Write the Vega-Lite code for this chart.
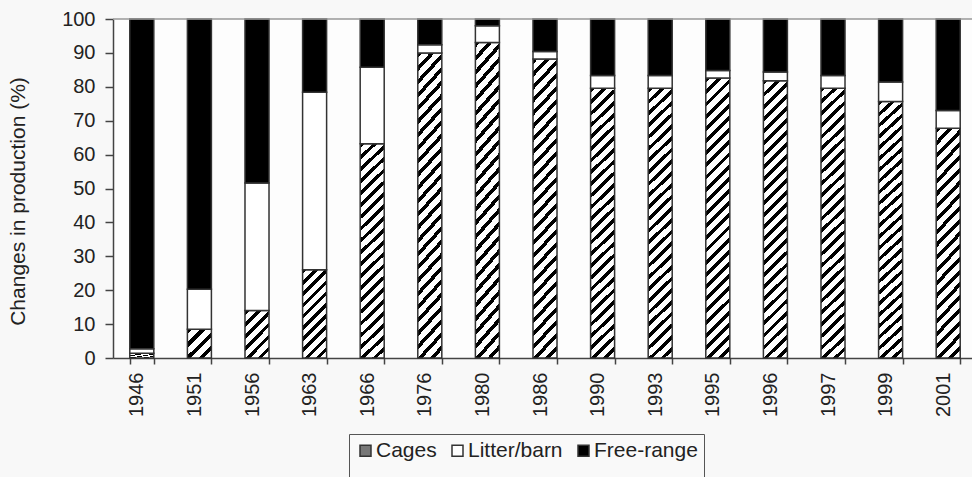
{
  "$schema": "https://vega.github.io/schema/vega-lite/v6.json",
  "autosize": "none",
  "width": 859,
  "height": 339,
  "padding": {"left": 113, "top": 19, "right": 0, "bottom": 119},
  "background": "#f8f8f8",
  "config": {
    "font": "Liberation Sans",
    "view": {"stroke": null, "fill": "#fdfdfd"},
    "axisY": {"labelOverlap": false}
  },
  "data": {"values": [
    {"year": "1946", "cat": "Cages", "start": 0, "end": 1.4},
    {"year": "1946", "cat": "Litter/barn", "start": 1.4, "end": 2.7},
    {"year": "1946", "cat": "Free-range", "start": 2.7, "end": 100},
    {"year": "1951", "cat": "Cages", "start": 0, "end": 8.5},
    {"year": "1951", "cat": "Litter/barn", "start": 8.5, "end": 20.3},
    {"year": "1951", "cat": "Free-range", "start": 20.3, "end": 100},
    {"year": "1956", "cat": "Cages", "start": 0, "end": 14.0},
    {"year": "1956", "cat": "Litter/barn", "start": 14.0, "end": 51.6},
    {"year": "1956", "cat": "Free-range", "start": 51.6, "end": 100},
    {"year": "1963", "cat": "Cages", "start": 0, "end": 26.0},
    {"year": "1963", "cat": "Litter/barn", "start": 26.0, "end": 78.4},
    {"year": "1963", "cat": "Free-range", "start": 78.4, "end": 100},
    {"year": "1966", "cat": "Cages", "start": 0, "end": 63.2},
    {"year": "1966", "cat": "Litter/barn", "start": 63.2, "end": 85.8},
    {"year": "1966", "cat": "Free-range", "start": 85.8, "end": 100},
    {"year": "1976", "cat": "Cages", "start": 0, "end": 90.0},
    {"year": "1976", "cat": "Litter/barn", "start": 90.0, "end": 92.4},
    {"year": "1976", "cat": "Free-range", "start": 92.4, "end": 100},
    {"year": "1980", "cat": "Cages", "start": 0, "end": 93.1},
    {"year": "1980", "cat": "Litter/barn", "start": 93.1, "end": 98.0},
    {"year": "1980", "cat": "Free-range", "start": 98.0, "end": 100},
    {"year": "1986", "cat": "Cages", "start": 0, "end": 88.2},
    {"year": "1986", "cat": "Litter/barn", "start": 88.2, "end": 90.4},
    {"year": "1986", "cat": "Free-range", "start": 90.4, "end": 100},
    {"year": "1990", "cat": "Cages", "start": 0, "end": 79.6},
    {"year": "1990", "cat": "Litter/barn", "start": 79.6, "end": 83.3},
    {"year": "1990", "cat": "Free-range", "start": 83.3, "end": 100},
    {"year": "1993", "cat": "Cages", "start": 0, "end": 79.6},
    {"year": "1993", "cat": "Litter/barn", "start": 79.6, "end": 83.3},
    {"year": "1993", "cat": "Free-range", "start": 83.3, "end": 100},
    {"year": "1995", "cat": "Cages", "start": 0, "end": 82.6},
    {"year": "1995", "cat": "Litter/barn", "start": 82.6, "end": 84.8},
    {"year": "1995", "cat": "Free-range", "start": 84.8, "end": 100},
    {"year": "1996", "cat": "Cages", "start": 0, "end": 81.8},
    {"year": "1996", "cat": "Litter/barn", "start": 81.8, "end": 84.4},
    {"year": "1996", "cat": "Free-range", "start": 84.4, "end": 100},
    {"year": "1997", "cat": "Cages", "start": 0, "end": 79.6},
    {"year": "1997", "cat": "Litter/barn", "start": 79.6, "end": 83.3},
    {"year": "1997", "cat": "Free-range", "start": 83.3, "end": 100},
    {"year": "1999", "cat": "Cages", "start": 0, "end": 75.7},
    {"year": "1999", "cat": "Litter/barn", "start": 75.7, "end": 81.4},
    {"year": "1999", "cat": "Free-range", "start": 81.4, "end": 100},
    {"year": "2001", "cat": "Cages", "start": 0, "end": 67.8},
    {"year": "2001", "cat": "Litter/barn", "start": 67.8, "end": 73.0},
    {"year": "2001", "cat": "Free-range", "start": 73.0, "end": 100}
  ]},
  "layer": [
    {
      "mark": {"type": "bar", "stroke": "#333", "strokeWidth": 1.5},
      "encoding": {
        "x": {
          "field": "year", "type": "ordinal", "sort": null,
          "scale": {"range": [0, 864], "paddingInner": 0.583, "paddingOuter": 0.2915},
          "axis": {"title": null, "labelAngle": -90, "labelFontSize": 20, "labelPadding": 8, "labelOffset": -5, "tickSize": 6, "tickBand": "extent", "domainColor": "#444", "tickColor": "#444", "domainWidth": 1.5, "tickWidth": 1.5, "labelColor": "#222"}
        },
        "y": {
          "field": "end", "type": "quantitative",
          "scale": {"domain": [0, 100], "nice": false},
          "axis": {"title": "Changes in production (%)", "values": [0, 10, 20, 30, 40, 50, 60, 70, 80, 90, 100], "labelOverlap": false, "grid": false, "tickSize": 8, "labelPadding": 10, "labelFontSize": 20, "labelColor": "#222", "titleFontSize": 21, "titleFontWeight": "normal", "titleColor": "#222", "titleX": -95, "titleY": 182, "titleBaseline": "middle", "domainColor": "#444", "tickColor": "#444", "domainWidth": 1.5, "tickWidth": 1.5}
        },
        "y2": {"field": "start"},
        "fill": {
          "field": "cat", "type": "nominal",
          "scale": {"domain": ["Cages", "Litter/barn", "Free-range"], "range": ["#777777", "#ffffff", "#000000"]},
          "legend": {
            "orient": "none", "legendX": 236, "legendY": 415, "direction": "horizontal",
            "title": " ", "titleOrient": "bottom", "titleFontSize": 20, "titlePadding": 5,
            "padding": 6, "strokeColor": "#555", "fillColor": "#f9f9f9",
            "symbolType": "square", "symbolSize": 121,
            "labelFontSize": 21, "labelColor": "#222", "labelOffset": 0, "columnPadding": 10,
            "encode": {"symbols": {
              "fillOpacity": {"value": 1},
              "stroke": {"value": "#000"},
              "strokeWidth": {"value": 1.2}
            }}
          },
          "condition": [
            {"test": "datum.cat === 'Cages' && indexof(['1976','1980','1986','1990','1993','1995','1996','1997','1999'], datum.year) >= 0",
             "value": {"gradient": "linear", "x1": 0, "y1": 0, "x2": 0.0924, "y2": 1.0778, "stops": [
              {"offset":0,"color":"#000"},{"offset":0.016,"color":"#000"},{"offset":0.016,"color":"#fff"},{"offset":0.04,"color":"#fff"},
              {"offset":0.04,"color":"#000"},{"offset":0.056,"color":"#000"},{"offset":0.056,"color":"#fff"},{"offset":0.08,"color":"#fff"},
              {"offset":0.08,"color":"#000"},{"offset":0.096,"color":"#000"},{"offset":0.096,"color":"#fff"},{"offset":0.12,"color":"#fff"},
              {"offset":0.12,"color":"#000"},{"offset":0.136,"color":"#000"},{"offset":0.136,"color":"#fff"},{"offset":0.16,"color":"#fff"},
              {"offset":0.16,"color":"#000"},{"offset":0.176,"color":"#000"},{"offset":0.176,"color":"#fff"},{"offset":0.2,"color":"#fff"},
              {"offset":0.2,"color":"#000"},{"offset":0.216,"color":"#000"},{"offset":0.216,"color":"#fff"},{"offset":0.24,"color":"#fff"},
              {"offset":0.24,"color":"#000"},{"offset":0.256,"color":"#000"},{"offset":0.256,"color":"#fff"},{"offset":0.28,"color":"#fff"},
              {"offset":0.28,"color":"#000"},{"offset":0.296,"color":"#000"},{"offset":0.296,"color":"#fff"},{"offset":0.32,"color":"#fff"},
              {"offset":0.32,"color":"#000"},{"offset":0.336,"color":"#000"},{"offset":0.336,"color":"#fff"},{"offset":0.36,"color":"#fff"},
              {"offset":0.36,"color":"#000"},{"offset":0.376,"color":"#000"},{"offset":0.376,"color":"#fff"},{"offset":0.4,"color":"#fff"},
              {"offset":0.4,"color":"#000"},{"offset":0.416,"color":"#000"},{"offset":0.416,"color":"#fff"},{"offset":0.44,"color":"#fff"},
              {"offset":0.44,"color":"#000"},{"offset":0.456,"color":"#000"},{"offset":0.456,"color":"#fff"},{"offset":0.48,"color":"#fff"},
              {"offset":0.48,"color":"#000"},{"offset":0.496,"color":"#000"},{"offset":0.496,"color":"#fff"},{"offset":0.52,"color":"#fff"},
              {"offset":0.52,"color":"#000"},{"offset":0.536,"color":"#000"},{"offset":0.536,"color":"#fff"},{"offset":0.56,"color":"#fff"},
              {"offset":0.56,"color":"#000"},{"offset":0.576,"color":"#000"},{"offset":0.576,"color":"#fff"},{"offset":0.6,"color":"#fff"},
              {"offset":0.6,"color":"#000"},{"offset":0.616,"color":"#000"},{"offset":0.616,"color":"#fff"},{"offset":0.64,"color":"#fff"},
              {"offset":0.64,"color":"#000"},{"offset":0.656,"color":"#000"},{"offset":0.656,"color":"#fff"},{"offset":0.68,"color":"#fff"},
              {"offset":0.68,"color":"#000"},{"offset":0.696,"color":"#000"},{"offset":0.696,"color":"#fff"},{"offset":0.72,"color":"#fff"},
              {"offset":0.72,"color":"#000"},{"offset":0.736,"color":"#000"},{"offset":0.736,"color":"#fff"},{"offset":0.76,"color":"#fff"},
              {"offset":0.76,"color":"#000"},{"offset":0.776,"color":"#000"},{"offset":0.776,"color":"#fff"},{"offset":0.8,"color":"#fff"},
              {"offset":0.8,"color":"#000"},{"offset":0.816,"color":"#000"},{"offset":0.816,"color":"#fff"},{"offset":0.84,"color":"#fff"},
              {"offset":0.84,"color":"#000"},{"offset":0.856,"color":"#000"},{"offset":0.856,"color":"#fff"},{"offset":0.88,"color":"#fff"},
              {"offset":0.88,"color":"#000"},{"offset":0.896,"color":"#000"},{"offset":0.896,"color":"#fff"},{"offset":0.92,"color":"#fff"},
              {"offset":0.92,"color":"#000"},{"offset":0.936,"color":"#000"},{"offset":0.936,"color":"#fff"},{"offset":0.96,"color":"#fff"},
              {"offset":0.96,"color":"#000"},{"offset":0.976,"color":"#000"},{"offset":0.976,"color":"#fff"},{"offset":1,"color":"#fff"}
             ]}},
            {"test": "datum.cat === 'Cages' && indexof(['1966','2001'], datum.year) >= 0",
             "value": {"gradient": "linear", "x1": 0, "y1": 0, "x2": 0.119, "y2": 1.0957, "stops": [
              {"offset":0,"color":"#000"},{"offset":0.02,"color":"#000"},{"offset":0.02,"color":"#fff"},{"offset":0.05,"color":"#fff"},
              {"offset":0.05,"color":"#000"},{"offset":0.07,"color":"#000"},{"offset":0.07,"color":"#fff"},{"offset":0.1,"color":"#fff"},
              {"offset":0.1,"color":"#000"},{"offset":0.12,"color":"#000"},{"offset":0.12,"color":"#fff"},{"offset":0.15,"color":"#fff"},
              {"offset":0.15,"color":"#000"},{"offset":0.17,"color":"#000"},{"offset":0.17,"color":"#fff"},{"offset":0.2,"color":"#fff"},
              {"offset":0.2,"color":"#000"},{"offset":0.22,"color":"#000"},{"offset":0.22,"color":"#fff"},{"offset":0.25,"color":"#fff"},
              {"offset":0.25,"color":"#000"},{"offset":0.27,"color":"#000"},{"offset":0.27,"color":"#fff"},{"offset":0.3,"color":"#fff"},
              {"offset":0.3,"color":"#000"},{"offset":0.32,"color":"#000"},{"offset":0.32,"color":"#fff"},{"offset":0.35,"color":"#fff"},
              {"offset":0.35,"color":"#000"},{"offset":0.37,"color":"#000"},{"offset":0.37,"color":"#fff"},{"offset":0.4,"color":"#fff"},
              {"offset":0.4,"color":"#000"},{"offset":0.42,"color":"#000"},{"offset":0.42,"color":"#fff"},{"offset":0.45,"color":"#fff"},
              {"offset":0.45,"color":"#000"},{"offset":0.47,"color":"#000"},{"offset":0.47,"color":"#fff"},{"offset":0.5,"color":"#fff"},
              {"offset":0.5,"color":"#000"},{"offset":0.52,"color":"#000"},{"offset":0.52,"color":"#fff"},{"offset":0.55,"color":"#fff"},
              {"offset":0.55,"color":"#000"},{"offset":0.57,"color":"#000"},{"offset":0.57,"color":"#fff"},{"offset":0.6,"color":"#fff"},
              {"offset":0.6,"color":"#000"},{"offset":0.62,"color":"#000"},{"offset":0.62,"color":"#fff"},{"offset":0.65,"color":"#fff"},
              {"offset":0.65,"color":"#000"},{"offset":0.67,"color":"#000"},{"offset":0.67,"color":"#fff"},{"offset":0.7,"color":"#fff"},
              {"offset":0.7,"color":"#000"},{"offset":0.72,"color":"#000"},{"offset":0.72,"color":"#fff"},{"offset":0.75,"color":"#fff"},
              {"offset":0.75,"color":"#000"},{"offset":0.77,"color":"#000"},{"offset":0.77,"color":"#fff"},{"offset":0.8,"color":"#fff"},
              {"offset":0.8,"color":"#000"},{"offset":0.82,"color":"#000"},{"offset":0.82,"color":"#fff"},{"offset":0.85,"color":"#fff"},
              {"offset":0.85,"color":"#000"},{"offset":0.87,"color":"#000"},{"offset":0.87,"color":"#fff"},{"offset":0.9,"color":"#fff"},
              {"offset":0.9,"color":"#000"},{"offset":0.92,"color":"#000"},{"offset":0.92,"color":"#fff"},{"offset":0.95,"color":"#fff"},
              {"offset":0.95,"color":"#000"},{"offset":0.97,"color":"#000"},{"offset":0.97,"color":"#fff"},{"offset":1,"color":"#fff"}
             ]}},
            {"test": "datum.cat === 'Cages' && datum.year === '1963'",
             "value": {"gradient": "linear", "x1": 0, "y1": 0, "x2": 0.3231, "y2": 1.1846, "stops": [
              {"offset":0,"color":"#000"},{"offset":0.04,"color":"#000"},{"offset":0.04,"color":"#fff"},{"offset":0.1,"color":"#fff"},
              {"offset":0.1,"color":"#000"},{"offset":0.14,"color":"#000"},{"offset":0.14,"color":"#fff"},{"offset":0.2,"color":"#fff"},
              {"offset":0.2,"color":"#000"},{"offset":0.24,"color":"#000"},{"offset":0.24,"color":"#fff"},{"offset":0.3,"color":"#fff"},
              {"offset":0.3,"color":"#000"},{"offset":0.34,"color":"#000"},{"offset":0.34,"color":"#fff"},{"offset":0.4,"color":"#fff"},
              {"offset":0.4,"color":"#000"},{"offset":0.44,"color":"#000"},{"offset":0.44,"color":"#fff"},{"offset":0.5,"color":"#fff"},
              {"offset":0.5,"color":"#000"},{"offset":0.54,"color":"#000"},{"offset":0.54,"color":"#fff"},{"offset":0.6,"color":"#fff"},
              {"offset":0.6,"color":"#000"},{"offset":0.64,"color":"#000"},{"offset":0.64,"color":"#fff"},{"offset":0.7,"color":"#fff"},
              {"offset":0.7,"color":"#000"},{"offset":0.74,"color":"#000"},{"offset":0.74,"color":"#fff"},{"offset":0.8,"color":"#fff"},
              {"offset":0.8,"color":"#000"},{"offset":0.84,"color":"#000"},{"offset":0.84,"color":"#fff"},{"offset":0.9,"color":"#fff"},
              {"offset":0.9,"color":"#000"},{"offset":0.94,"color":"#000"},{"offset":0.94,"color":"#fff"},{"offset":1,"color":"#fff"}
             ]}},
            {"test": "datum.cat === 'Cages' && datum.year === '1956'",
             "value": {"gradient": "linear", "x1": 0, "y1": 0, "x2": 0.6119, "y2": 1.1982, "stops": [
              {"offset":0,"color":"#000"},{"offset":0.0667,"color":"#000"},{"offset":0.0667,"color":"#fff"},{"offset":0.1667,"color":"#fff"},
              {"offset":0.1667,"color":"#000"},{"offset":0.2333,"color":"#000"},{"offset":0.2333,"color":"#fff"},{"offset":0.3333,"color":"#fff"},
              {"offset":0.3333,"color":"#000"},{"offset":0.4,"color":"#000"},{"offset":0.4,"color":"#fff"},{"offset":0.5,"color":"#fff"},
              {"offset":0.5,"color":"#000"},{"offset":0.5667,"color":"#000"},{"offset":0.5667,"color":"#fff"},{"offset":0.6667,"color":"#fff"},
              {"offset":0.6667,"color":"#000"},{"offset":0.7333,"color":"#000"},{"offset":0.7333,"color":"#fff"},{"offset":0.8333,"color":"#fff"},
              {"offset":0.8333,"color":"#000"},{"offset":0.9,"color":"#000"},{"offset":0.9,"color":"#fff"},{"offset":1,"color":"#fff"}
             ]}},
            {"test": "datum.cat === 'Cages'",
             "value": {"gradient": "linear", "x1": 0, "y1": 0, "x2": 0.902, "y2": 1.0823, "stops": [
              {"offset":0,"color":"#000"},{"offset":0.1,"color":"#000"},{"offset":0.1,"color":"#fff"},{"offset":0.25,"color":"#fff"},
              {"offset":0.25,"color":"#000"},{"offset":0.35,"color":"#000"},{"offset":0.35,"color":"#fff"},{"offset":0.5,"color":"#fff"},
              {"offset":0.5,"color":"#000"},{"offset":0.6,"color":"#000"},{"offset":0.6,"color":"#fff"},{"offset":0.75,"color":"#fff"},
              {"offset":0.75,"color":"#000"},{"offset":0.85,"color":"#000"},{"offset":0.85,"color":"#fff"},{"offset":1,"color":"#fff"}
             ]}}
          ]
        }
      }
    },
    {
      "data": {"values": [{}]},
      "mark": {"type": "rule", "color": "#999", "strokeWidth": 1.5},
      "encoding": {"y": {"datum": 100, "type": "quantitative", "axis": {"title": "Changes in production (%)", "values": [0, 10, 20, 30, 40, 50, 60, 70, 80, 90, 100], "labelOverlap": false, "grid": false, "tickSize": 8, "labelPadding": 10, "labelFontSize": 20, "labelColor": "#222", "titleFontSize": 21, "titleFontWeight": "normal", "titleColor": "#222", "titleX": -95, "titleY": 182, "titleBaseline": "middle", "domainColor": "#444", "tickColor": "#444", "domainWidth": 1.5, "tickWidth": 1.5}}}
    }
  ]
}
